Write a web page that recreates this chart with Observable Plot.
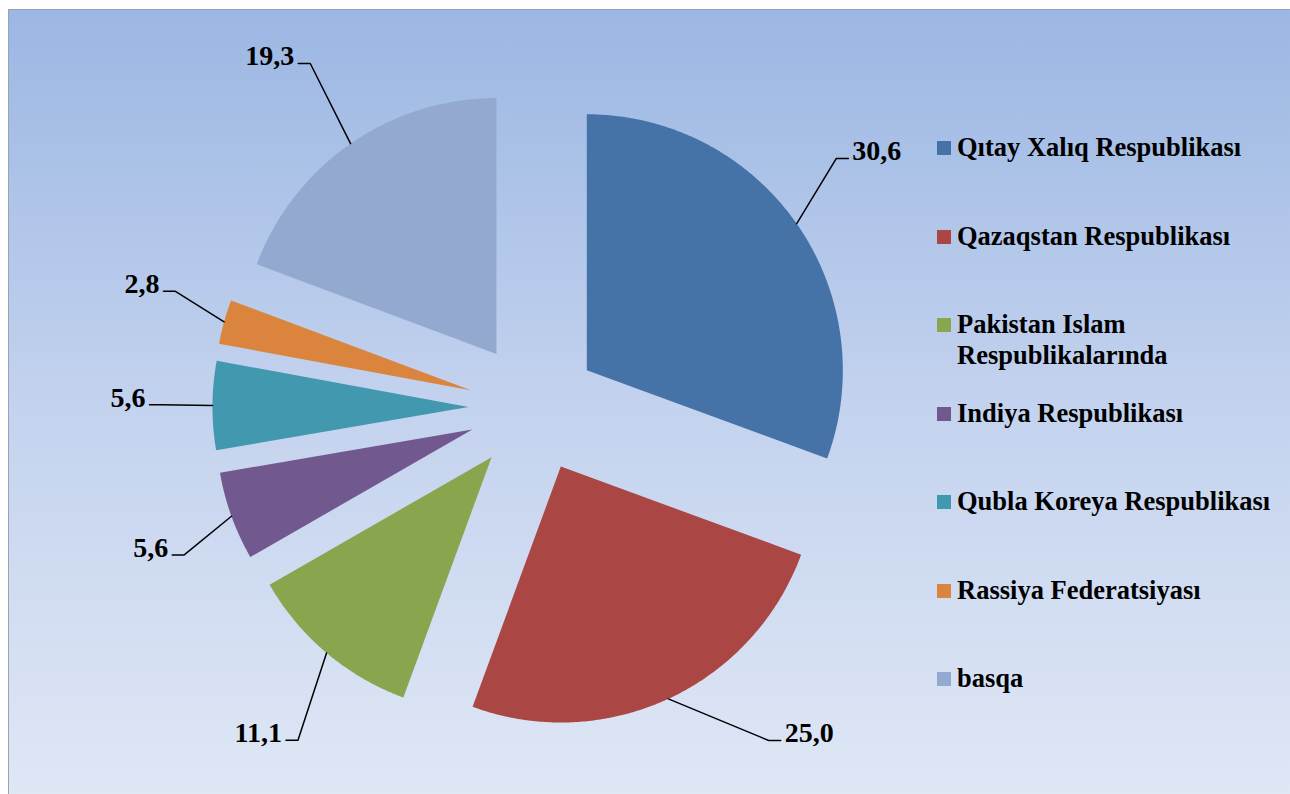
<!DOCTYPE html>
<html>
<head>
<meta charset="utf-8">
<script src="https://cdn.jsdelivr.net/npm/d3@7"></script>
<script src="https://cdn.jsdelivr.net/npm/@observablehq/plot@0.6"></script>
<style>
  html, body { margin: 0; padding: 0; background: #ffffff; }
  #frame {
    position: absolute; left: 8px; top: 9px; width: 1282px; height: 785px;
    background: linear-gradient(to bottom, #9bb7e3 0%, #c3d2ee 50%, #dfe7f5 100%);
    border-top: 1px solid #9aa3b0; border-left: 1px solid #9aa3b0;
    box-sizing: border-box; overflow: hidden;
  }
  #chart { position: absolute; left: 0; top: 0; }
  #legend { position: absolute; left: 928px; top: 0; width: 354px; height: 780px; }
  .item { position: absolute; left: 0; width: 354px; display: flex; align-items: flex-start; }
  .sw { width: 14px; height: 14px; margin-top: 9px; margin-right: 6px; flex: none; }
  .lbl { font-family: "Liberation Serif", "Times New Roman", serif; font-weight: bold;
         font-size: 26.5px; line-height: 31px; color: #000; width: 330px; }
</style>
</head>
<body>
<div id="frame">
  <div id="chart"></div>
  <div id="legend"></div>
</div>
<script>
// ---- data ----
const categories = [
  "Qıtay Xalıq Respublikası",
  "Qazaqstan Respublikası",
  "Pakistan Islam Respublikalarında",
  "Indiya Respublikası",
  "Qubla Koreya Respublikası",
  "Rassiya Federatsiyası",
  "basqa"
];
const values = [30.6, 25.0, 11.1, 5.6, 5.6, 2.8, 19.3];
const colors = ["#4572a7", "#aa4643", "#89a54e", "#71588f", "#4198af", "#db843d", "#93a9cf"];

// ---- layout ----
const W = 920, H = 784;
const PX = 256;            // pixels per unit radius
const CX = 524, CY = 397;  // pie centre inside the svg
const explode = 0.254;     // slice offset, in radii
const labelRx = 1.50, labelRy = 1.70; // label ellipse, in radii
const yMax = (CY - 53) / PX, yMin = (CY - 730) / PX;
const elbow = 12 / PX;

const total = d3.sum(values);
const fmt = v => d3.format(".1f")(v).replace(".", ",");

let acc = 0;
const slices = values.map((v, i) => {
  const a0 = acc / total * 2 * Math.PI;
  acc += v;
  const a1 = acc / total * 2 * Math.PI;
  return {name: categories[i], value: v, a0, a1, mid: (a0 + a1) / 2};
});

// polygon points for each exploded slice
const slicePts = [];
for (const s of slices) {
  const ox = explode * Math.sin(s.mid), oy = explode * Math.cos(s.mid);
  slicePts.push({name: s.name, x: ox, y: oy});
  const n = Math.max(8, Math.ceil((s.a1 - s.a0) / (Math.PI / 360)));
  for (let k = 0; k <= n; k++) {
    const a = s.a0 + (s.a1 - s.a0) * k / n;
    slicePts.push({name: s.name, x: ox + Math.sin(a), y: oy + Math.cos(a)});
  }
}

// labels and leader lines
const labels = [], leaders = [];
for (const s of slices) {
  const ox = explode * Math.sin(s.mid), oy = explode * Math.cos(s.mid);
  const sx = ox + Math.sin(s.mid), sy = oy + Math.cos(s.mid);
  const sgn = Math.sin(s.mid) >= 0 ? 1 : -1;
  let lx = labelRx * Math.sin(s.mid), ly = labelRy * Math.cos(s.mid);
  if (ly > yMax || ly < yMin) {
    ly = ly > yMax ? yMax : yMin;
    const c = ly / labelRy;
    lx = sgn * labelRx * Math.sqrt(1 - c * c);
  }
  const side = lx >= 0 ? 1 : -1;
  leaders.push({name: s.name, x: sx, y: sy});
  leaders.push({name: s.name, x: lx - side * elbow, y: ly});
  leaders.push({name: s.name, x: lx, y: ly});
  labels.push({name: s.name, x: lx, y: ly, side, text: fmt(s.value)});
}

const textOpts = {
  x: "x", y: "y", text: "text", fill: "black",
  fontFamily: "Liberation Serif, Times New Roman, serif",
  fontWeight: "bold", fontSize: 28, dy: -7
};

const chart = Plot.plot({
  width: W, height: H,
  margin: 0,
  style: {background: "transparent", overflow: "visible"},
  x: {domain: [-CX / PX, (W - CX) / PX], range: [0, W], axis: null},
  y: {domain: [-(H - CY) / PX, CY / PX], range: [H, 0], axis: null},
  color: {domain: categories, range: colors},
  marks: [
    Plot.line(slicePts, {x: "x", y: "y", z: "name", fill: "name", stroke: null, curve: "linear-closed"}),
    Plot.line(leaders, {x: "x", y: "y", z: "name", stroke: "black", strokeWidth: 1.5}),
    Plot.text(labels.filter(d => d.side > 0), {...textOpts, textAnchor: "start", dx: 4}),
    Plot.text(labels.filter(d => d.side < 0), {...textOpts, textAnchor: "end", dx: -4})
  ]
});
document.getElementById("chart").appendChild(chart);

// legend (HTML, right of the plot)
const legend = document.getElementById("legend");
categories.forEach((c, i) => {
  const item = document.createElement("div");
  item.className = "item";
  item.style.top = (122 + i * 88.5) + "px";
  const sw = document.createElement("div");
  sw.className = "sw";
  sw.style.background = colors[i];
  const lb = document.createElement("div");
  lb.className = "lbl";
  lb.textContent = c;
  item.appendChild(sw);
  item.appendChild(lb);
  legend.appendChild(item);
});
</script>
</body>
</html>
